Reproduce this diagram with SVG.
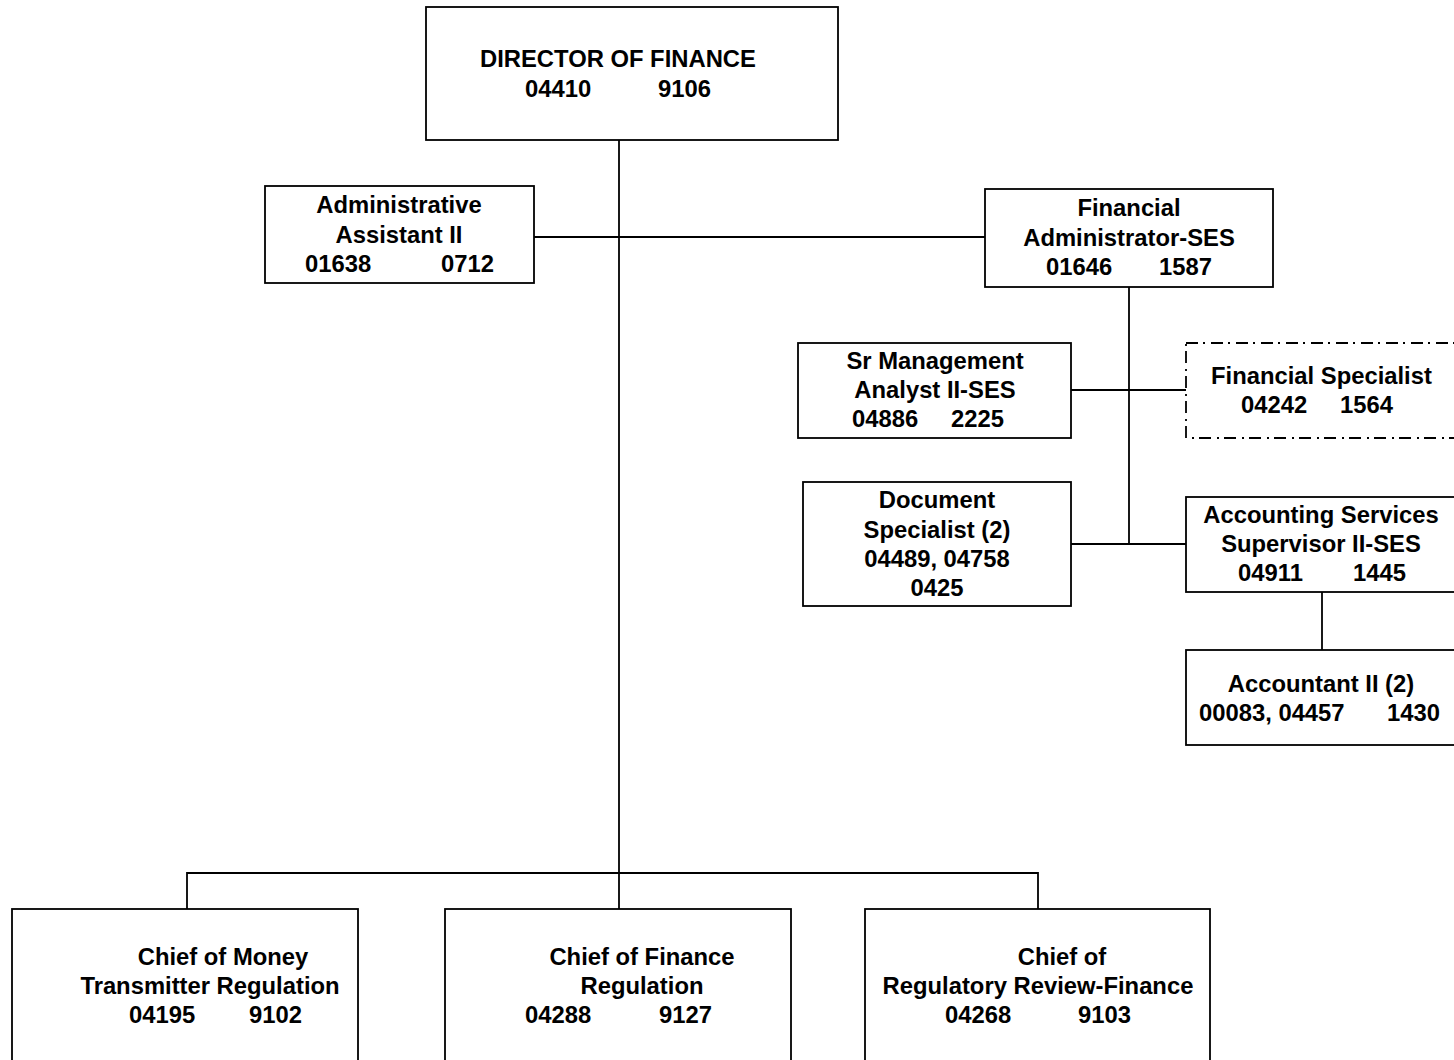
<svg xmlns="http://www.w3.org/2000/svg" width="1454" height="1060" viewBox="0 0 1454 1060">
  <style>
    .box { fill: #ffffff; stroke: #000000; stroke-width: 1.8; }
    .dashed { stroke-dasharray: 12 5 2 6; }
    .conn { fill: none; stroke: #000000; stroke-width: 1.8; }
    text { font-family: "Liberation Sans", Arial, sans-serif; font-weight: bold; font-size: 23.8px; fill: #000000; }
    .c { text-anchor: middle; }
  </style>
  <rect x="0" y="0" width="1454" height="1060" fill="#ffffff"/>

  <g id="connectors">
    <path class="conn" d="M619 140 V909"/>
    <path class="conn" d="M534 237 H985"/>
    <path class="conn" d="M1129 287 V544"/>
    <path class="conn" d="M1071 390 H1186"/>
    <path class="conn" d="M1071 544 H1186"/>
    <path class="conn" d="M1322 592 V650"/>
    <path class="conn" d="M187 909 V873 H1038 V909"/>
  </g>

  <g id="director">
    <rect class="box" x="426" y="7" width="412" height="133"/>
    <text x="480" y="67">DIRECTOR OF FINANCE</text>
    <text y="97"><tspan x="525">04410</tspan><tspan x="658">9106</tspan></text>
  </g>

  <g id="admin-assistant">
    <rect class="box" x="265" y="186" width="269" height="97"/>
    <text class="c" x="399" y="213">Administrative</text>
    <text class="c" x="399" y="243">Assistant II</text>
    <text y="272"><tspan x="305">01638</tspan><tspan x="441">0712</tspan></text>
  </g>

  <g id="financial-administrator">
    <rect class="box" x="985" y="189" width="288" height="98"/>
    <text class="c" x="1129" y="216">Financial</text>
    <text class="c" x="1129" y="246">Administrator-SES</text>
    <text y="275"><tspan x="1046">01646</tspan><tspan x="1159">1587</tspan></text>
  </g>

  <g id="sr-management-analyst">
    <rect class="box" x="798" y="343" width="273" height="95"/>
    <text class="c" x="935" y="369">Sr Management</text>
    <text class="c" x="935" y="398">Analyst II-SES</text>
    <text y="427"><tspan x="852">04886</tspan><tspan x="951">2225</tspan></text>
  </g>

  <g id="financial-specialist">
    <rect class="box dashed" x="1186" y="343" width="290" height="95"/>
    <text x="1211" y="384">Financial Specialist</text>
    <text y="413"><tspan x="1241">04242</tspan><tspan x="1340">1564</tspan></text>
  </g>

  <g id="document-specialist">
    <rect class="box" x="803" y="482" width="268" height="124"/>
    <text class="c" x="937" y="508">Document</text>
    <text class="c" x="937" y="538">Specialist (2)</text>
    <text class="c" x="937" y="567">04489, 04758</text>
    <text class="c" x="937" y="596">0425</text>
  </g>

  <g id="accounting-services-supervisor">
    <rect class="box" x="1186" y="497" width="290" height="95"/>
    <text class="c" x="1321" y="523">Accounting Services</text>
    <text class="c" x="1321" y="552">Supervisor II-SES</text>
    <text y="581"><tspan x="1238">04911</tspan><tspan x="1353">1445</tspan></text>
  </g>

  <g id="accountant-ii">
    <rect class="box" x="1186" y="650" width="290" height="95"/>
    <text class="c" x="1321" y="692">Accountant II (2)</text>
    <text y="721"><tspan x="1199">00083, 04457</tspan><tspan x="1387">1430</tspan></text>
  </g>

  <g id="chief-money-transmitter">
    <rect class="box" x="12" y="909" width="346" height="180"/>
    <text class="c" x="223" y="965">Chief of Money</text>
    <text class="c" x="210" y="994">Transmitter Regulation</text>
    <text y="1023"><tspan x="129">04195</tspan><tspan x="249">9102</tspan></text>
  </g>

  <g id="chief-finance-regulation">
    <rect class="box" x="445" y="909" width="346" height="180"/>
    <text class="c" x="642" y="965">Chief of Finance</text>
    <text class="c" x="642" y="994">Regulation</text>
    <text y="1023"><tspan x="525">04288</tspan><tspan x="659">9127</tspan></text>
  </g>

  <g id="chief-regulatory-review">
    <rect class="box" x="865" y="909" width="345" height="180"/>
    <text class="c" x="1062" y="965">Chief of</text>
    <text class="c" x="1038" y="994">Regulatory Review-Finance</text>
    <text y="1023"><tspan x="945">04268</tspan><tspan x="1078">9103</tspan></text>
  </g>
</svg>
